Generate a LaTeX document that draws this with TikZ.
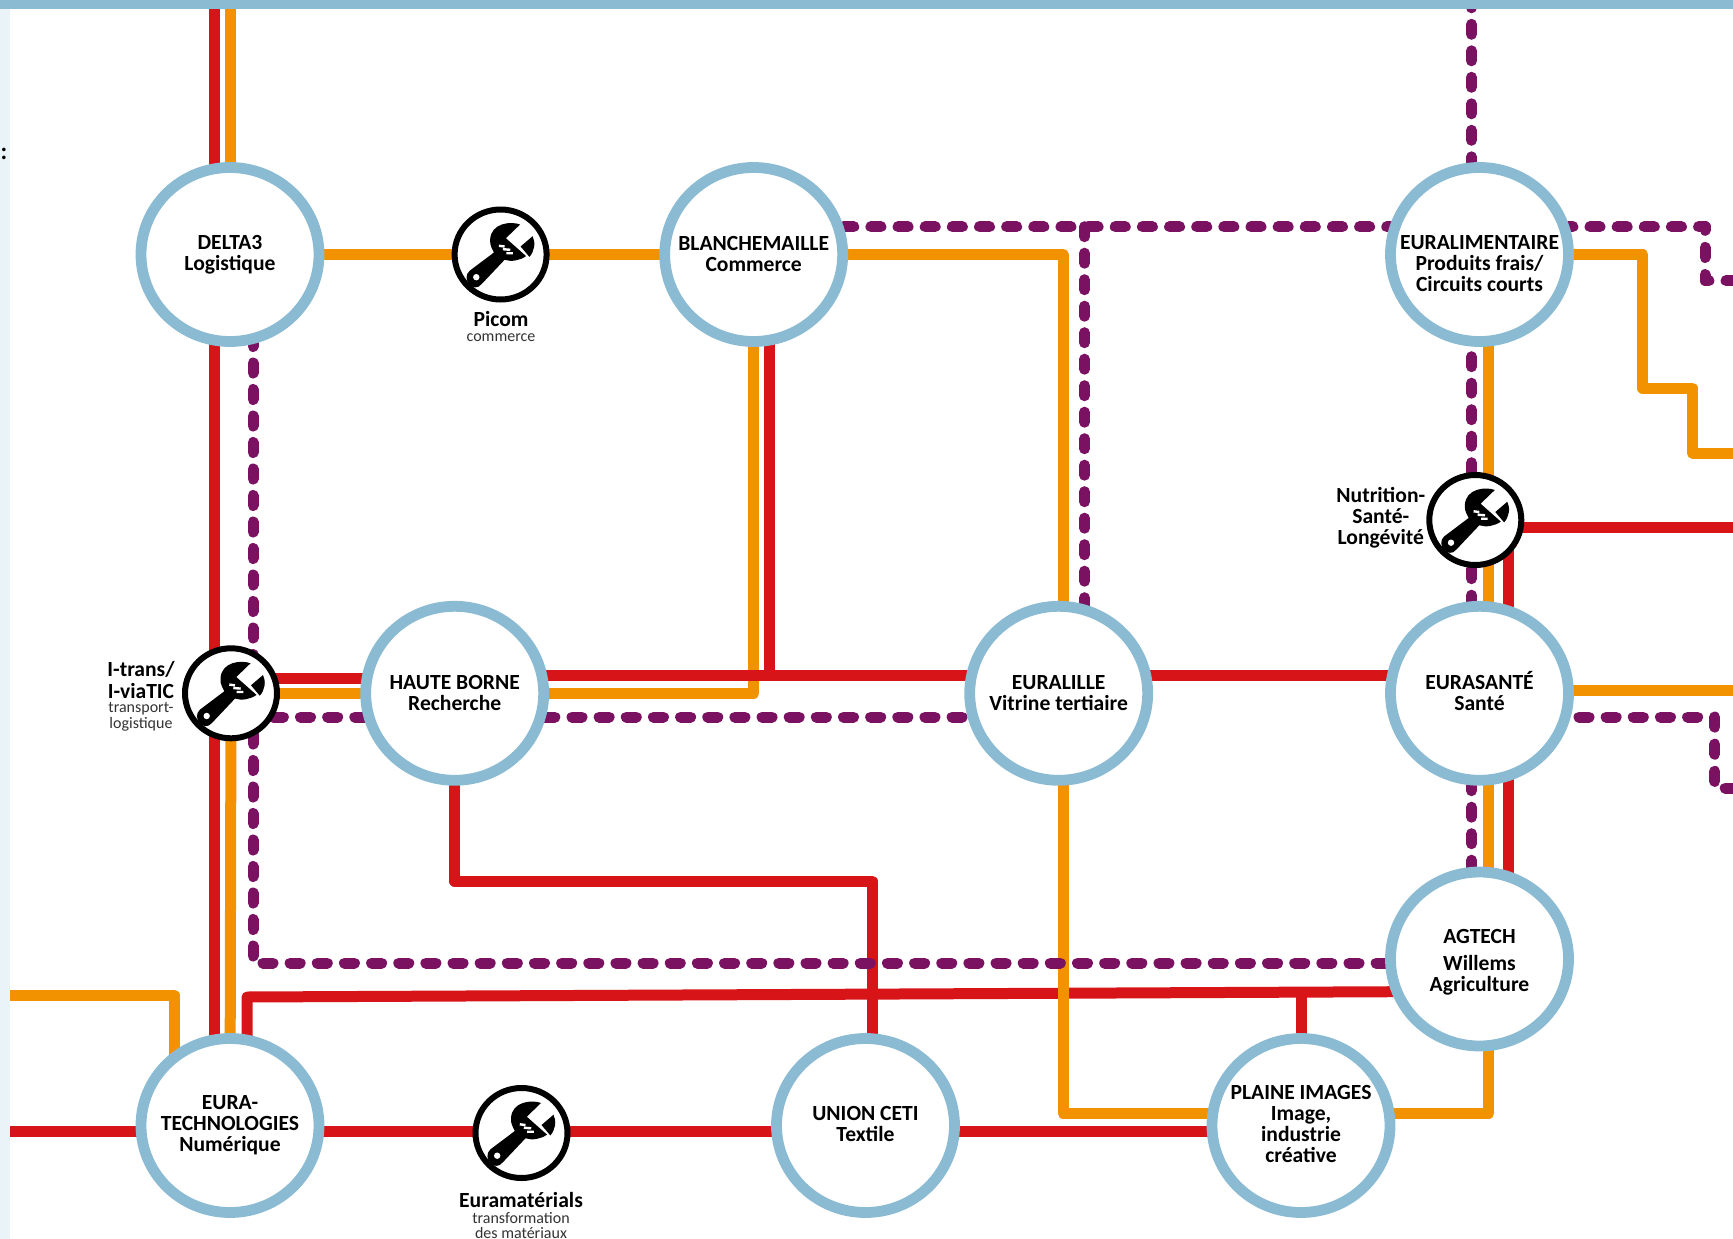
\documentclass[tikz,border=0pt]{standalone}
\usepackage{fontspec}
\setmainfont{Carlito}[Ligatures=Common]
\usetikzlibrary{shapes.geometric,calc}
\definecolor{hubblue}{HTML}{8ABBD3}
\definecolor{stripblue}{HTML}{EAF4F8}
\definecolor{linered}{HTML}{D71418}
\definecolor{lineorange}{HTML}{F39200}
\definecolor{linepurple}{HTML}{7A1161}
\definecolor{subgray}{HTML}{333333}
\tikzset{
  hub/.style={ellipse,draw=hubblue,line width=10.8pt,fill=white,minimum width=178pt,minimum height=174pt,inner sep=0pt,outer sep=0pt},
  hubtext/.style={align=center,inner sep=0pt,font=\fontsize{21.6}{21}\selectfont\bfseries},
  tool/.style={ellipse,draw=black,line width=6pt,fill=white,minimum width=92pt,minimum height=90pt,inner sep=0pt,outer sep=0pt},
  toolname/.style={anchor=base,align=center,inner sep=0pt,font=\fontsize{21.6}{21}\selectfont\bfseries},
  toolsub/.style={anchor=base,align=center,inner sep=0pt,text=subgray,font=\fontsize{16}{15}\selectfont},
  redline/.style={draw=linered,line width=11pt,line join=round},
  orangeline/.style={draw=lineorange,line width=11pt,line join=round},
  purplebase/.style={draw=linepurple,line width=11pt,line join=round,line cap=round},
  purpleh/.style={purplebase,dash pattern=on 10pt off 17.15pt,dash phase=#1},
  purplev/.style={purplebase,dash pattern=on 10pt off 16.5pt,dash phase=#1}
}
\newcommand{\wrenchicon}[1]{%
  \begin{scope}[shift={(#1.center)}]
    \fill[black] (19.5,-30) .. controls (10.7,-33.5) and (-9.8,-31.8) .. (-10.5,-14.7)
      .. controls (-11,-8.7) and (-7.7,-4.7) .. (-6.7,-2) -- (-31,16.3)
      .. controls (-40,24) and (-27,40) .. (-18.7,29.3) -- (4,5.3)
      .. controls (10.7,7.5) and (19.5,6) .. (25.5,1.6) -- (5.3,-16.3) -- cycle;
    \fill[black] (32,-18.3) -- (20,-8) -- (28.8,2.4) .. controls (33.8,-3) and (35.3,-12) .. (32,-18.3) -- cycle;
    \fill[white] (-24.3,22.7) circle (3.2pt);
    \draw[white,line width=2.4pt] (-1.7,-8.7) -- (4,-8) (2.3,-5.3) -- (9.7,-4.7) (5.7,-1.3) -- (12.3,-1.3);
  \end{scope}}
\begin{document}
\begin{tikzpicture}[x=1pt,y=-1pt]
\useasboundingbox (0,0) rectangle (1733,1239);
\fill[white] (0,0) rectangle (1733,1239);
\begin{scope}
\clip (0,0) rectangle (1733,1239);
% positions
\coordinate (cdelta) at (230,254.5);
\coordinate (cblanche) at (753.7,254.5);
\coordinate (ceuralim) at (1479.5,254.5);
\coordinate (chaute) at (454.7,693.3);
\coordinate (ceuralille) at (1058.7,693.3);
\coordinate (ceurasante) at (1479.5,693.3);
\coordinate (cagtech) at (1479.5,959);
\coordinate (ceuratech) at (230,1125.5);
\coordinate (cunion) at (865.5,1125.5);
\coordinate (cplaine) at (1301,1125.5);
\coordinate (cpicom) at (500.6,254.5);
\coordinate (citrans) at (231,693.3);
\coordinate (cnutri) at (1475.3,520);
\coordinate (ceuramat) at (521.5,1133);
% free ends and bends
\coordinate (topr) at (214,9);
\coordinate (topo) at (230,9);
\coordinate (topp) at (1471.5,-2.2);
\coordinate (or1) at (1063,254.5);
\coordinate (or1b) at (1063,693.3);
\coordinate (or2) at (1063,1113.5);
\coordinate (or2b) at (1301,1113.5);
\coordinate (or3) at (1488.7,1113.5);
\coordinate (or4) at (753.7,693.3);
\coordinate (or5) at (1642.7,254.5);
\coordinate (or6) at (1642.7,388);
\coordinate (or7) at (1692.5,388);
\coordinate (or8) at (1692.5,453);
\coordinate (or9) at (1733,453);
\coordinate (or10) at (1733,690.3);
\coordinate (or11) at (10,995);
\coordinate (or12) at (174,995);
\coordinate (re1) at (454.7,881);
\coordinate (re2) at (872,881);
\coordinate (re3) at (247,997);
\coordinate (re4) at (1733,527);
\coordinate (re5) at (10,1131);
\coordinate (re6) at (1508.3,527);
\coordinate (re7) at (1508.3,959);
\coordinate (pu0) at (231,717);
\coordinate (pu1) at (253,963);
\coordinate (pu2) at (1084.5,226.7);
\coordinate (pu2b) at (1084.5,693.3);
\coordinate (pu3) at (1705,226.7);
\coordinate (pu4) at (1705,280.7);
\coordinate (pu5) at (1733,280.7);
\coordinate (pu6) at (1714.7,717);
\coordinate (pu7) at (1714.7,788);
\coordinate (pu8) at (1733,788);
\coordinate (pu9) at (1301,992.2);
% red, under the orange
\draw[redline] (topr) -- ($(ceuratech)+(-16,0)$);
\draw[redline] ($(ceuratech)+(17,0)$) -- (re3) -- ($(cagtech)+(-40,32.5)$);
\draw[redline] (pu9) -- (cplaine);
\draw[redline] (re5) -- ($(ceuratech)+(0,5.5)$) -- ($(ceuramat)+(0,-2)$) -- ($(cunion)+(0,5.5)$) -- ($(cplaine)+(0,5.5)$);
\draw[redline] (chaute) -- (re1) -- (re2) -- ($(cunion)+(6.5,0)$);
\draw[redline] ($(cnutri)+(0,7)$) -- (re4);
\draw[redline] (re6) -- (re7);
% orange
\draw[orangeline] (topo) -- (cdelta);
\draw[orangeline] (citrans) -- (ceuratech);
\draw[orangeline] (cdelta) -- (cpicom) -- (cblanche) -- (or1) -- (or1b);
\draw[orangeline] (or1b) -- (or2) -- (or2b) -- (or3) -- ($(cagtech)+(9.2,0)$);
\draw[orangeline] ($(ceuralim)+(9.2,0)$) -- ($(cagtech)+(9.2,0)$);
\draw[orangeline] (citrans) -- (chaute) -- (or4) -- (cblanche);
\draw[orangeline] (ceuralim) -- (or5) -- (or6) -- (or7) -- (or8) -- (or9);
\draw[orangeline] ($(ceurasante)+(0,-3)$) -- (or10);
\draw[orangeline] (or11) -- (or12) -- ($(ceuratech)+(-56,0)$);
% red over the orange
\draw[redline] ($(citrans)+(0,-15.3)$) -- ($(chaute)+(0,-15.3)$);
\draw[redline] ($(chaute)+(0,-17.5)$) -- ($(ceuralille)+(0,-17.5)$) -- ($(ceurasante)+(0,-17.5)$);
\draw[redline] ($(cblanche)+(15.3,0)$) -- ($(cblanche)+(15.3,421.5)$);
% purple
\draw[purplev=24] ($(cdelta)+(23,0)$) -- (pu1);
\draw[purpleh=17.15] (pu1) -- ($(cagtech)+(0,4)$);
\draw[purpleh=18.55] ($(cblanche)+(0,-27.8)$) -- ($(ceuralim)+(0,-27.8)$);
\draw[purpleh=25.25] ($(ceuralim)+(0,-27.8)$) -- (pu3) -- (pu4) -- (pu5);
\draw[purplev=0] (pu2) -- (pu2b);
\draw[purplev=0] (topp) -- ($(ceuralim)+(-8,0)$);
\draw[purplev=3.8] ($(ceuralim)+(-8,0)$) -- ($(cagtech)+(-8,0)$);
\draw[purpleh=11.95] (pu0) -- ($(chaute)+(0,23.7)$) -- ($(ceuralille)+(0,23.7)$);
\draw[purpleh=9.1] ($(ceurasante)+(0,23.7)$) -- (pu6) -- (pu7) -- (pu8);
% stations
\node[hub,label={[hubtext]center:{DELTA3\\Logistique}}] (delta) at (cdelta) {};
\node[hub,label={[hubtext,yshift=0.8pt]center:{BLANCHEMAILLE\\Commerce}}] (blanche) at (cblanche) {};
\node[hub,label={[hubtext,yshift=-9pt]center:{EURALIMENTAIRE\\Produits frais/\\Circuits courts}}] (euralim) at (ceuralim) {};
\node[hub,label={[hubtext]center:{HAUTE BORNE\\Recherche}}] (haute) at (chaute) {};
\node[hub,label={[hubtext]center:{EURALILLE\\Vitrine tertiaire}}] (euralille) at (ceuralille) {};
\node[hub,label={[hubtext,yshift=2pt]center:{EURASANTÉ\\Santé}}] (eurasante) at (ceurasante) {};
\node[hub,label={[hubtext]center:{EURA-\\TECHNOLOGIES\\Numérique}}] (euratech) at (ceuratech) {};
\node[hub,label={[hubtext,yshift=1.5pt]center:{UNION CETI\\Textile}}] (union) at (cunion) {};
\node[hub,label={[hubtext,yshift=1.5pt]center:{PLAINE IMAGES\\Image,\\industrie\\créative}}] (plaine) at (cplaine) {};
\node[hub,label={[hubtext,yshift=-3pt]center:{AGTECH\\[6pt]Willems\\Agriculture}}] (agtech) at (cagtech) {};
% tools
\node[tool] (picom) at (cpicom) {};
\node[tool] (itrans) at (citrans) {};
\node[tool] (nutri) at (cnutri) {};
\node[tool] (euramat) at (ceuramat) {};
\wrenchicon{picom}
\wrenchicon{itrans}
\wrenchicon{nutri}
\wrenchicon{euramat}
\node[toolname] (picomname) at (501,326) {Picom};
\node[toolsub] (picomsub) at (501,341) {commerce};
\node[toolname] (itransname) at (141,676) {I-trans/};
\node[toolname] (itransname2) at (141,698) {I-viaTIC};
\node[toolsub] (itranssub) at (141,712) {transport-};
\node[toolsub] (itranssub2) at (141,728) {logistique};
\node[toolname] (nutriname) at (1380.8,502) {Nutrition-};
\node[toolname] (nutriname2) at (1380.8,523) {Santé-};
\node[toolname] (nutriname3) at (1380.8,544) {Longévité};
\node[toolname] (euramatname) at (521,1207) {Euramatérials};
\node[toolsub] (euramatsub) at (521,1223) {transformation};
\node[toolsub] (euramatsub2) at (521,1238) {des matériaux};
\end{scope}
% page frame
\fill[hubblue] (0,0) rectangle (1733,9.5);
\fill[stripblue] (0,9.5) rectangle (10,1239);
\node[anchor=base,inner sep=0pt,font=\fontsize{24}{24}\selectfont\bfseries] (colon) at (4,159) {:};
\end{tikzpicture}
\end{document}
